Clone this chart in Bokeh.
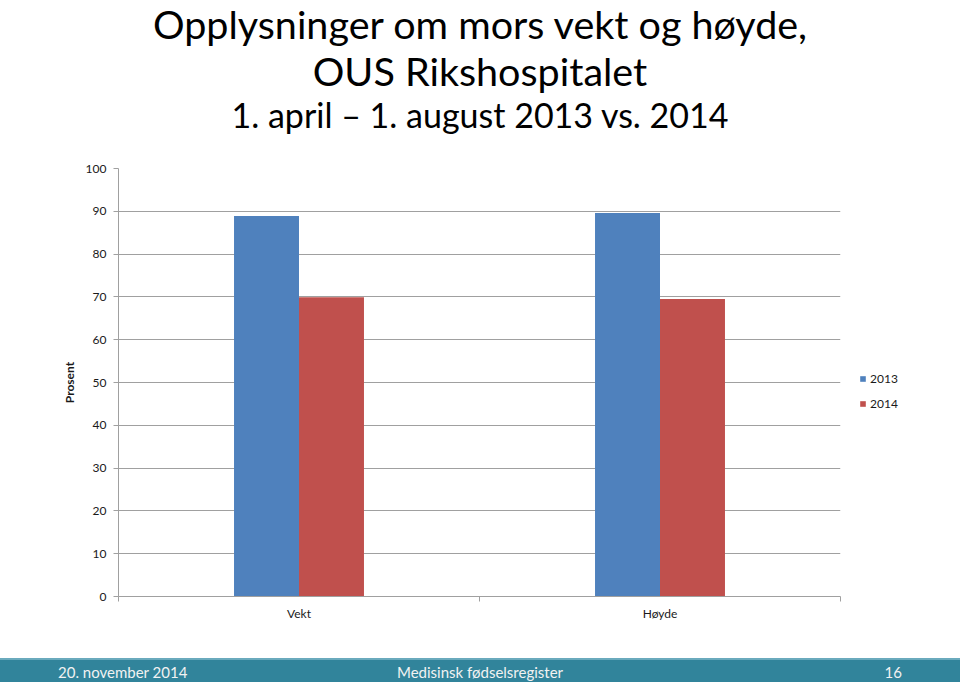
from bokeh.plotting import figure
from bokeh.models import Range1d, FixedTicker, Legend, LegendItem, Div
from bokeh.layouts import column
from bokeh.embed import file_html
from bokeh.resources import INLINE
import numpy as np

# ---- data ----
categories = ["Vekt", "Høyde"]
years = ["2013", "2014"]
values_2013 = [88.9, 89.6]
values_2014 = [69.9, 69.5]
y_ticks = [0, 10, 20, 30, 40, 50, 60, 70, 80, 90, 100]

title_lines = ["Opplysninger om mors vekt og høyde,", "OUS Rikshospitalet",
               "1. april – 1. august 2013 vs. 2014"]
footer_left = "20. november 2014"
footer_mid = "Medisinsk fødselsregister"
footer_right = "16"

BLUE = "#4F81BD"
RED = "#C0504D"
GRID = "#a0a0a0"
FONT = "Lato"

# ---- title ----
title_html = (
    f'<div style="font-family:{FONT};color:#000;text-align:center;width:960px;">'
    f'<div style="font-size:39.5px;line-height:47.4px;white-space:nowrap;">{title_lines[0]}</div>'
    f'<div style="font-size:39.5px;line-height:47.4px;white-space:nowrap;">{title_lines[1]}</div>'
    f'<div style="font-size:34px;line-height:40.8px;white-space:nowrap;">{title_lines[2]}</div>'
    '</div>'
)
title_div = Div(text=title_html, width=960, height=140, margin=0)

# ---- chart ----
centers = np.arange(len(categories)) + 0.5
bar_w = 0.18

p = figure(frame_width=722, frame_height=428, output_backend="svg", toolbar_location=None,
           x_range=Range1d(0, len(categories)), y_range=Range1d(0, 100),
           min_border_left=118, min_border_right=120, min_border_top=28,
           min_border_bottom=62, margin=0)
p.outline_line_color = None
p.background_fill_color = "white"
p.border_fill_color = "white"

r13 = p.vbar(x=centers - bar_w / 2, top=values_2013, width=bar_w,
             fill_color=BLUE, line_color=None)
r14 = p.vbar(x=centers + bar_w / 2, top=values_2014, width=bar_w,
             fill_color=RED, line_color=None)

# y axis
yax = p.yaxis[0]
yax.ticker = FixedTicker(ticks=y_ticks)
yax.axis_line_color = GRID
yax.major_tick_line_color = GRID
yax.major_tick_out = 5
yax.major_tick_in = 0
yax.minor_tick_line_color = None
yax.major_label_text_font = FONT
yax.major_label_text_font_size = "12px"
yax.major_label_text_color = "#1a1a1a"
yax.major_label_standoff = 7
yax.axis_label = "Prosent"
yax.axis_label_text_font = FONT
yax.axis_label_text_font_size = "12px"
yax.axis_label_text_font_style = "bold"
yax.axis_label_text_color = "#1a1a1a"
yax.axis_label_standoff = 6

p.ygrid.ticker = FixedTicker(ticks=y_ticks)
p.ygrid.grid_line_color = GRID
p.xgrid.grid_line_color = None

# x axis
xax = p.xaxis[0]
xax.ticker = FixedTicker(ticks=list(centers),
                         minor_ticks=list(range(len(categories) + 1)))
xax.major_label_overrides = {float(c): lab for c, lab in zip(centers, categories)}
xax.axis_line_color = GRID
xax.major_tick_line_color = None
xax.major_tick_out = 0
xax.major_tick_in = 0
xax.minor_tick_line_color = GRID
xax.minor_tick_out = 5
xax.minor_tick_in = 0
xax.major_label_text_font = FONT
xax.major_label_text_font_size = "12px"
xax.major_label_text_color = "#1a1a1a"
xax.major_label_standoff = 4

legend = Legend(items=[LegendItem(label=years[0], renderers=[r13]),
                       LegendItem(label=years[1], renderers=[r14])],
                location=(19, 185), orientation="vertical")
legend.glyph_width = 7
legend.glyph_height = 7
legend.label_text_font = FONT
legend.label_text_font_size = "12px"
legend.label_text_color = "#1a1a1a"
legend.label_standoff = 4
legend.label_height = 14
legend.spacing = 10
legend.padding = 6
legend.margin = 0
legend.border_line_color = None
legend.background_fill_alpha = 0
p.add_layout(legend, "right")

# ---- footer ----
footer_html = (
    f'<div style="position:relative;width:960px;height:24px;background:#31849B;'
    f'border-top:2px solid #6aaabd;font-family:{FONT};font-size:15px;line-height:24px;color:#f2f2f2;">'
    f'<span style="position:absolute;left:58px;top:0;">{footer_left}</span>'
    f'<span style="position:absolute;left:0;width:960px;text-align:center;top:0;">{footer_mid}</span>'
    f'<span style="position:absolute;right:58px;top:0;">{footer_right}</span>'
    '</div>'
)
footer_div = Div(text=footer_html, width=960, height=26, margin=0)

layout = column(title_div, p, footer_div)
open("out.html", "w").write(file_html(layout, INLINE))
